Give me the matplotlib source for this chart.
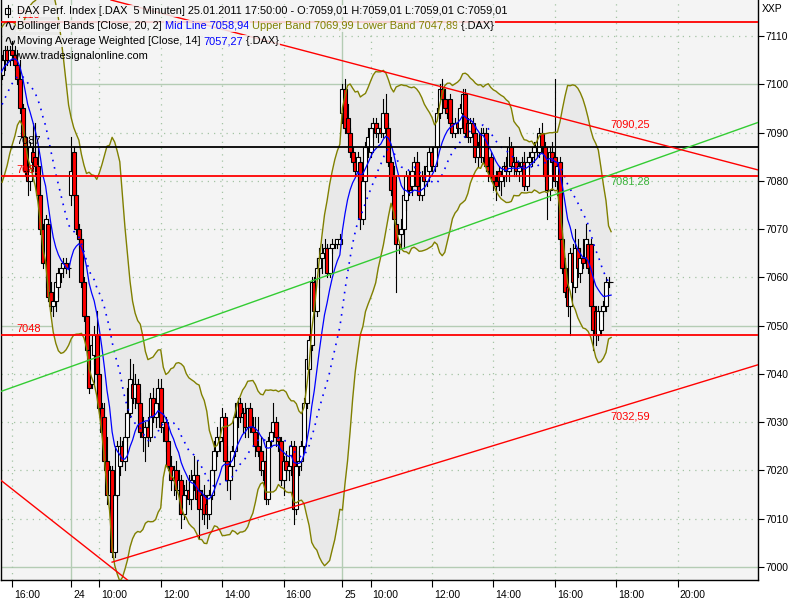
import numpy as np
import pandas as pd
import matplotlib
matplotlib.use("Agg")
import matplotlib.pyplot as plt
import matplotlib.transforms as mtransforms
from matplotlib.patches import Rectangle
from matplotlib.lines import Line2D

FONT = ["Liberation Sans", "DejaVu Sans"]
FS = 7.5      # axis labels
FS_HEAD = 7.9  # header rows
plt.rcParams["font.family"] = FONT

# 5 minute bars (time stamp = end of bar): Fri 21.01. afternoon, Mon 24.01., Tue 25.01.
slots = (pd.date_range("2011-01-21 15:40", "2011-01-21 17:50", freq="5min")
         .append(pd.date_range("2011-01-24 09:05", "2011-01-24 17:50", freq="5min"))
         .append(pd.date_range("2011-01-25 09:05", "2011-01-25 21:55", freq="5min")))

# closes before the visible window, they only feed the indicators
pre_close = [7083, 7084, 7083, 7087, 7089, 7088, 7091, 7093, 7092, 7096,
             7099, 7098, 7101, 7103, 7102, 7104, 7106, 7105, 7107]

bar_open = [
    # Fri
    7102, 7105, 7107, 7105, 7107, 7106, 7104, 7101, 7095, 7089, 7082, 7080, 7086, 7085,
    7083, 7077, 7070, 7063, 7071, 7057, 7054, 7055, 7058, 7061, 7062, 7063, 7062,
    # Mon
    7077, 7086, 7077, 7070, 7068, 7059, 7052, 7045, 7038, 7044,
    7048, 7040, 7033, 7031, 7022, 7015, 7020, 7003, 7015, 7021,
    7025, 7022, 7027, 7032, 7038, 7035, 7038, 7034, 7028, 7027,
    7029, 7027, 7035, 7031, 7034, 7037, 7029, 7030, 7026, 7021,
    7018, 7020, 7016, 7018, 7011, 7015, 7016, 7014, 7018, 7019,
    7016, 7012, 7015, 7013, 7011, 7015, 7020, 7024, 7026, 7027,
    7031, 7022, 7018, 7021, 7024, 7031, 7034, 7031, 7032, 7029,
    7033, 7029, 7028, 7025, 7024, 7020, 7022, 7014, 7026, 7028,
    7030, 7027, 7026, 7018, 7022, 7020, 7021, 7025, 7012, 7021,
    7022, 7025, 7034, 7041, 7046, 7059, 7053, 7062, 7064, 7065,
    7066, 7061, 7066, 7067, 7067, 7067,
    # Tue
    7094, 7099, 7093, 7090, 7086, 7084, 7082, 7084, 7072, 7080,
    7087, 7086, 7091, 7092, 7090, 7091, 7090, 7094, 7091, 7084,
    7081, 7071, 7067, 7069, 7070, 7076, 7081, 7079, 7082, 7084,
    7079, 7077, 7081, 7080, 7082, 7086, 7083, 7087, 7094, 7099,
    7097, 7095, 7097, 7092, 7090, 7092, 7091, 7094, 7098, 7092,
    7089, 7092, 7090, 7085, 7090, 7085, 7090, 7083, 7085, 7081,
    7080, 7082, 7080, 7081, 7083, 7082, 7087, 7083, 7084, 7082,
    7083, 7084, 7079, 7084, 7085, 7086, 7087, 7086, 7090, 7087,
    7081, 7078, 7086, 7085, 7080, 7084, 7068, 7062, 7058, 7054,
    7065, 7058, 7066, 7061, 7064, 7064, 7067, 7067, 7054, 7053,
    7048, 7049, 7053, 7054, 7059, 7059.01]

bar_high = [
    7106, 7108, 7108, 7108, 7109, 7108, 7107, 7105, 7096, 7090, 7085, 7088, 7092, 7092,
    7087, 7078, 7071, 7073, 7072, 7059, 7057, 7060, 7062, 7063, 7064, 7064, 7063,
    7089, 7087, 7078, 7071, 7069, 7060, 7052, 7046, 7047, 7050,
    7053, 7041, 7034, 7034, 7027, 7021, 7021, 7016, 7026, 7027,
    7026, 7028, 7037, 7043, 7042, 7040, 7039, 7036, 7031, 7030,
    7031, 7036, 7037, 7036, 7039, 7039, 7032, 7031, 7028, 7023,
    7021, 7022, 7020, 7019, 7017, 7018, 7019, 7020, 7023, 7022,
    7018, 7016, 7017, 7015, 7016, 7021, 7026, 7029, 7030, 7033,
    7032, 7025, 7022, 7025, 7034, 7035, 7035, 7033, 7034, 7033,
    7034, 7031, 7031, 7031, 7027, 7024, 7023, 7027, 7029, 7034,
    7031, 7030, 7027, 7023, 7024, 7022, 7026, 7026, 7022, 7024,
    7026, 7035, 7044, 7048, 7060, 7060, 7064, 7066, 7067, 7068,
    7067, 7067, 7068, 7068, 7068, 7069,
    7100, 7101, 7096, 7091, 7087, 7085, 7086, 7085, 7082, 7088,
    7091, 7092, 7093, 7093, 7092, 7093, 7097, 7098, 7092, 7085,
    7083, 7074, 7070, 7072, 7078, 7082, 7082, 7083, 7085, 7086,
    7082, 7082, 7083, 7084, 7087, 7087, 7088, 7095, 7100, 7101,
    7099, 7096, 7098, 7093, 7093, 7094, 7096, 7099, 7099, 7093,
    7093, 7093, 7091, 7088, 7091, 7091, 7091, 7085, 7086, 7083,
    7082, 7083, 7082, 7084, 7085, 7089, 7088, 7085, 7085, 7084,
    7085, 7086, 7085, 7086, 7087, 7088, 7089, 7091, 7092, 7088,
    7082, 7087, 7088, 7101, 7084, 7085, 7070, 7064, 7059, 7066,
    7067, 7070, 7068, 7066, 7068, 7071, 7068, 7068, 7055, 7054,
    7054, 7054, 7055, 7060, 7060, 7059.01]

bar_low = [
    7101, 7103, 7104, 7104, 7105, 7103, 7100, 7094, 7088, 7081, 7077, 7078, 7082, 7081,
    7076, 7069, 7062, 7058, 7055, 7053, 7052, 7053, 7056, 7059, 7060, 7061, 7060,
    7075, 7076, 7069, 7066, 7058, 7051, 7044, 7036, 7037, 7042,
    7039, 7032, 7027, 7020, 7013, 7012, 7002, 7002, 7014, 7019,
    7021, 7020, 7026, 7031, 7034, 7033, 7033, 7027, 7024, 7022,
    7025, 7026, 7030, 7029, 7033, 7028, 7026, 7024, 7020, 7016,
    7015, 7014, 7011, 7008, 7010, 7012, 7013, 7012, 7016, 7013,
    7006, 7010, 7009, 7008, 7010, 7014, 7019, 7023, 7024, 7026,
    7021, 7016, 7014, 7019, 7023, 7029, 7030, 7028, 7027, 7027,
    7028, 7026, 7023, 7023, 7019, 7018, 7013, 7013, 7025, 7027,
    7025, 7024, 7017, 7015, 7018, 7018, 7019, 7009, 7011, 7019,
    7020, 7024, 7033, 7040, 7045, 7052, 7052, 7058, 7061, 7062,
    7060, 7060, 7065, 7066, 7066, 7066,
    7092, 7090, 7089, 7085, 7083, 7081, 7080, 7070, 7071, 7078,
    7085, 7085, 7089, 7089, 7088, 7089, 7089, 7090, 7083, 7077,
    7071, 7057, 7065, 7066, 7066, 7074, 7077, 7077, 7080, 7078,
    7076, 7076, 7079, 7079, 7081, 7082, 7082, 7086, 7093, 7096,
    7094, 7093, 7091, 7089, 7089, 7090, 7090, 7093, 7089, 7088,
    7088, 7089, 7084, 7083, 7084, 7084, 7082, 7080, 7080, 7078,
    7076, 7078, 7077, 7079, 7080, 7080, 7082, 7081, 7081, 7080,
    7081, 7078, 7078, 7082, 7083, 7084, 7085, 7085, 7086, 7080,
    7072, 7076, 7082, 7079, 7077, 7067, 7061, 7056, 7052, 7048,
    7058, 7057, 7060, 7059, 7062, 7063, 7061, 7053, 7045, 7046,
    7047, 7048, 7052, 7053, 7058, 7059.01]

bar_close = [
    7105, 7107, 7105, 7107, 7106, 7104, 7101, 7095, 7089, 7082, 7080, 7087, 7084, 7083,
    7077, 7070, 7063, 7072, 7056, 7054, 7055, 7059, 7061, 7062, 7063, 7062, 7062,
    7082, 7077, 7070, 7068, 7059, 7052, 7045, 7037, 7046, 7048,
    7040, 7033, 7028, 7022, 7015, 7020, 7003, 7015, 7025, 7025,
    7022, 7027, 7032, 7039, 7035, 7038, 7034, 7028, 7027, 7029,
    7027, 7035, 7031, 7034, 7037, 7029, 7030, 7026, 7021, 7018,
    7020, 7016, 7018, 7011, 7015, 7016, 7014, 7018, 7019, 7014,
    7012, 7015, 7011, 7011, 7015, 7020, 7024, 7027, 7027, 7031,
    7022, 7018, 7021, 7024, 7031, 7034, 7031, 7032, 7029, 7033,
    7029, 7028, 7025, 7024, 7020, 7022, 7014, 7026, 7028, 7030,
    7027, 7026, 7018, 7022, 7020, 7021, 7025, 7012, 7021, 7022,
    7025, 7034, 7043, 7047, 7059, 7053, 7062, 7064, 7065, 7066,
    7061, 7066, 7067, 7067, 7068, 7068,
    7099, 7091, 7090, 7086, 7084, 7082, 7085, 7072, 7080, 7087,
    7089, 7091, 7092, 7090, 7091, 7090, 7094, 7091, 7084, 7078,
    7072, 7067, 7069, 7070, 7077, 7081, 7078, 7082, 7084, 7079,
    7077, 7081, 7080, 7083, 7086, 7083, 7087, 7094, 7099, 7097,
    7095, 7094, 7092, 7090, 7092, 7091, 7095, 7098, 7090, 7089,
    7092, 7090, 7085, 7087, 7085, 7090, 7083, 7082, 7081, 7080,
    7079, 7080, 7081, 7083, 7082, 7087, 7083, 7084, 7082, 7083,
    7084, 7079, 7084, 7085, 7086, 7087, 7088, 7090, 7087, 7081,
    7078, 7086, 7084, 7080, 7083, 7068, 7062, 7057, 7054, 7065,
    7059, 7066, 7062, 7064, 7063, 7068, 7062, 7054, 7049, 7048,
    7053, 7053, 7054, 7059, 7059, 7059.01]

# horizontal level lines and their labels
levels = [7113, 7087, 7081, 7048]
level_colors = ["red", "black", "red", "red"]

# trend lines: two anchor points (bar, price), colour, label (value at last bar)
trend_x = [(-0.8, 238), (109.8, 238), (43, 238), (-0.8, 44.2)]
trend_y = [(7036.3, 7081.28), (7108.1, 7090.25), (7001.0, 7032.59), (7018.1, 6999.3)]
trend_colors = ["#33cc33", "red", "red", "red"]
trend_labels = ["7081,28", "7090,25", "7032,59", None]
trend_label_colors = ["#3cb43c", "red", "red", None]

# ---------------------------------------------------------------- indicators
closes = pd.Series(pre_close + bar_close, dtype=float)
mid = closes.rolling(20).mean()
dev = closes.rolling(20).std(ddof=0)
upper = mid + 2 * dev
lower = mid - 2 * dev
wts = np.arange(1, 15)
wma = closes.rolling(14).apply(lambda s: (s * wts).sum() / wts.sum(), raw=True)
xi = np.arange(len(closes)) - len(pre_close)

# ---------------------------------------------------------------- figure
fig = plt.figure(figsize=(8, 6), dpi=100, facecolor="white")
ax = fig.add_axes([1 / 800, 20 / 600, 757 / 800, 580 / 600])
ax.set_facecolor("#f4f4f4")
ax.set_xlim(-0.42, 295.4)
ax.set_ylim(6997.3, 7117.46)

# grid
grid_dot = "#a4c4a4"
grid_solid = "#b4ccb4"
for v in range(7000, 7111, 10):
    if v % 50 == 0:
        ax.axhline(v, color=grid_solid, lw=1.0, zorder=0.5)
    else:
        ax.axhline(v, color=grid_dot, lw=0.9, ls=(0, (1, 4)), zorder=0.5)

tick_pos, tick_lab = [], []
for i, t in enumerate(slots):
    if i > 0 and t.date() != slots[i - 1].date():
        tick_pos.append(i)
        tick_lab.append(str(t.day))
        ax.axvline(i, color=grid_solid, lw=1.0, zorder=0.5)
    elif t.minute == 0 and t.hour % 2 == 0:
        tick_pos.append(i)
        tick_lab.append(t.strftime("%H:%M"))
        ax.axvline(i, color=grid_dot, lw=0.9, ls=(0, (1, 4)), zorder=0.5)

# bollinger band shading + lines
ax.fill_between(xi, lower, upper, color="#e9e9e9", lw=0, zorder=1)
ax.plot(xi, upper, color="#808000", lw=1, zorder=4)
ax.plot(xi, lower, color="#808000", lw=1, zorder=4)

# candles
for i in range(len(bar_close)):
    o, h, l, c = bar_open[i], bar_high[i], bar_low[i], bar_close[i]
    z = 2 + i * 0.003
    ax.add_line(Line2D([i, i], [l, h], color="black", lw=0.8, zorder=z))
    ax.add_patch(Rectangle((i - 0.78, min(o, c)), 1.56, abs(c - o),
                           facecolor="red" if c < o else "white",
                           edgecolor="black", lw=0.8, zorder=z + 0.001))

ax.plot(xi, mid, color="#0000ff", lw=1.2, ls=(0, (1, 3.5)), zorder=5)
ax.plot(xi, wma, color="#0000ff", lw=0.9, zorder=5)

# horizontal levels
lab_tr = mtransforms.blended_transform_factory(ax.transAxes, ax.transData)
for v, col in zip(levels, level_colors):
    ax.axhline(v, color=col, lw=1.3, zorder=6)
    ax.text(15 / 757, v + 0.3, str(v), color=col, fontsize=FS_HEAD, transform=lab_tr,
            ha="left", va="bottom", zorder=7)

# trend lines
x_right = ax.get_xlim()[1]
for (x1, x2), (y1, y2), col, lab, lcol in zip(trend_x, trend_y, trend_colors,
                                              trend_labels, trend_label_colors):
    slope = (y2 - y1) / (x2 - x1)
    if lab == "7032,59":
        ax.plot([x1, x_right], [y1, y1 + slope * (x_right - x1)], color=col, lw=1.0, zorder=6)
    else:
        ax.axline((x1, y1), (x2, y2), color=col, lw=1.0, zorder=6)
    if lab:
        va = "bottom" if lab == "7090,25" else "top"
        ax.text(x2 - 0.4, y2 + (0.4 if va == "bottom" else -0.4), lab, color=lcol,
                fontsize=FS_HEAD, ha="left", va=va, zorder=7)

# axes
ax.spines["top"].set_visible(False)
for s in ["left", "right", "bottom"]:
    ax.spines[s].set_color("black")
    ax.spines[s].set_linewidth(1)
ax.yaxis.tick_right()
ax.set_yticks(range(7000, 7111, 10))
ax.tick_params(axis="y", direction="out", length=4, width=0.8, pad=1, labelsize=FS)
ax.set_xticks(tick_pos, tick_lab)
ax.tick_params(axis="x", direction="out", length=5, width=0.8, pad=2.5, labelsize=FS)
off = mtransforms.ScaledTranslation(1.5 / 72, 0, fig.dpi_scale_trans)
for lab in ax.get_xticklabels():
    lab.set_horizontalalignment("left")
    lab.set_transform(lab.get_transform() + off)

# ---------------------------------------------------------------- header text
renderer = fig.canvas.get_renderer()
box = dict(facecolor="#f4f4f4", edgecolor="none", alpha=0.85, pad=0.6)


def width_px(s):
    t = fig.text(0, 0, s + "|", fontsize=FS_HEAD)
    w1 = t.get_window_extent(renderer).width
    t.set_text("|")
    w0 = t.get_window_extent(renderer).width
    t.remove()
    return w1 - w0


def header_row(y_px, x_px, pieces):
    x = x_px
    for s, col in pieces:
        fig.text(x / 800, 1 - y_px / 600, s, color=col, fontsize=FS_HEAD, ha="left",
                 va="center", bbox=box, zorder=10)
        x += width_px(s)


def wave_icon(y_px):
    fig.text(3 / 800, 1 - y_px / 600, "\u223f", fontsize=11, family="DejaVu Sans",
             ha="left", va="center", zorder=11)


header_row(11, 17, [("DAX Perf. Index [.DAX  5 Minuten] 25.01.2011 17:50:00 - "
                     "O:7059,01 H:7059,01 L:7059,01 C:7059,01", "black")])
wave_icon(26)
header_row(26, 17, [("Bollinger Bands [Close, 20, 2] ", "black"),
                    ("Mid Line 7058,94", "#0000ff"),
                    (" Upper Band 7069,99 Lower Band 7047,89", "#808000"),
                    (" {.DAX}", "black")])
wave_icon(41)
header_row(41, 17, [("Moving Average Weighted [Close, 14] ", "black"),
                    ("7057,27", "#0000ff"), (" {.DAX}", "black")])
fig.text(14 / 800, 1 - 56 / 600, "www.tradesignalonline.com", fontsize=FS_HEAD,
         ha="left", va="center", zorder=10)

# small candle icon in front of the first header row
fig.add_artist(Line2D([7.5 / 800, 7.5 / 800], [1 - 5 / 600, 1 - 17 / 600],
                      color="black", lw=0.8, transform=fig.transFigure))
fig.add_artist(Rectangle((5 / 800, 1 - 14 / 600), 5 / 800, 6 / 600, facecolor="white",
                         edgecolor="black", lw=0.8, transform=fig.transFigure))

fig.text(762 / 800, 1 - 9 / 600, "XXP", fontsize=FS, ha="left", va="center")

fig.savefig("out.png", dpi=100, facecolor="white")
